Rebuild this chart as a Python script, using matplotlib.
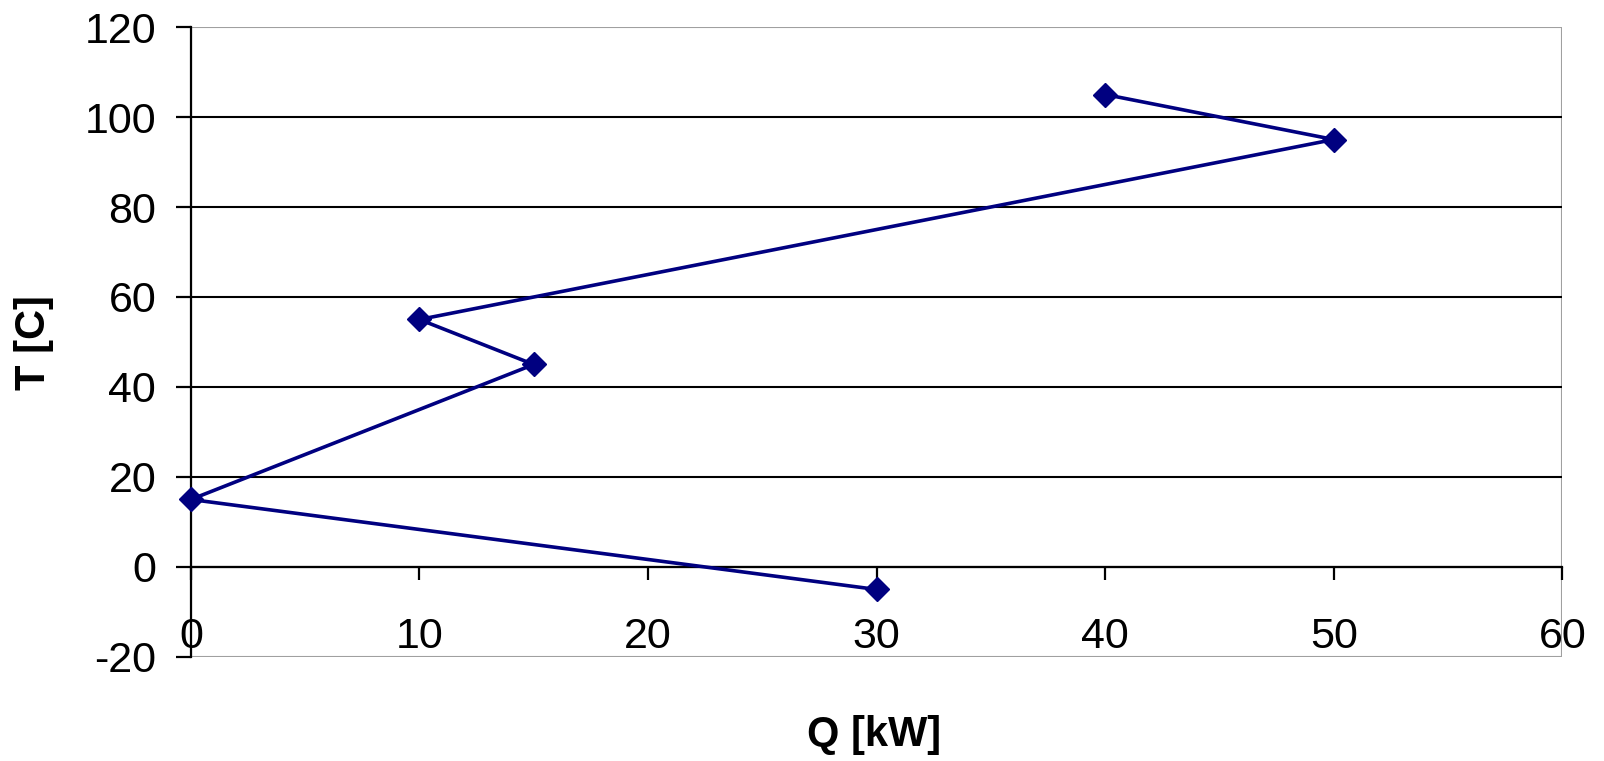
import matplotlib.pyplot as plt
from matplotlib.patches import Rectangle

# Q [kW] vs T [C], in drawing order
q_values = [30, 0, 15, 10, 50, 40]
t_values = [-5, 15, 45, 55, 95, 105]

x_ticks = [0, 10, 20, 30, 40, 50, 60]
y_ticks = [-20, 0, 20, 40, 60, 80, 100, 120]

plt.rcParams['font.family'] = ['Liberation Sans', 'DejaVu Sans']
plt.rcParams['axes.unicode_minus'] = False

fig = plt.figure(figsize=(16.04, 7.61), dpi=100)
ax = fig.add_axes([0.119, 0.1367, 0.855, 0.8278])

ax.set_xlim(0, 60)
ax.set_ylim(-20, 120)

# horizontal gridlines
for y in y_ticks[1:-1]:
    ax.axhline(y, color="black", linewidth=1.5, zorder=1)

ax.plot(
    q_values,
    t_values,
    color="#000080",
    linewidth=2.6,
    marker="D",
    markersize=12,
    markeredgewidth=1,
    zorder=3,
    clip_on=False
)

# gray frame of the plot area
ax.add_patch(Rectangle((0, 0), 1, 1, transform=ax.transAxes, fill=False,
                       edgecolor="#a0a0a0", linewidth=1.5, zorder=0))

for side in ["top", "right"]:
    ax.spines[side].set_visible(False)
ax.spines["left"].set_color("black")
ax.spines["left"].set_linewidth(1.6)
ax.spines["bottom"].set_position(("data", 0))
ax.spines["bottom"].set_color("black")
ax.spines["bottom"].set_linewidth(1.6)

ax.set_xticks(x_ticks)
ax.set_yticks(y_ticks)
ax.tick_params(axis="y", direction="out", length=11, width=1.6,
               pad=14, labelsize=31)
ax.tick_params(axis="x", direction="out", length=9, width=1.6,
               pad=27, labelsize=31)

fig.text(0.021, 0.55, "T [C]", rotation=90, fontsize=30,
         fontweight="bold", ha="center", va="center")
fig.text(0.545, 0.034, "Q [kW]", fontsize=30, fontweight="bold",
         ha="center", va="center")

plt.savefig("out.png", dpi=100)
plt.close()
